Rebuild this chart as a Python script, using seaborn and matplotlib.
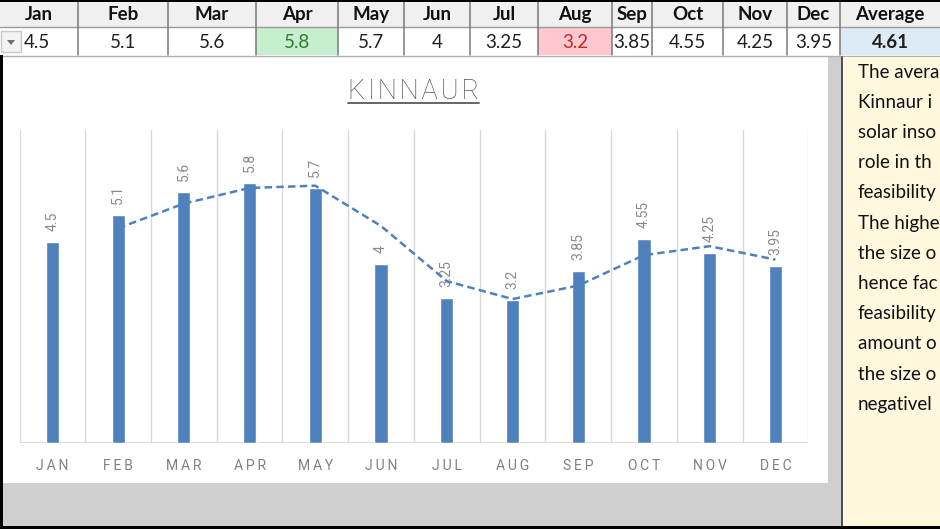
import matplotlib
matplotlib.use("Agg")
import matplotlib.pyplot as plt
import numpy as np
import pandas as pd
import seaborn as sns
from matplotlib.patches import Rectangle, Polygon

# data read from the sheet / chart
months = ["Jan", "Feb", "Mar", "Apr", "May", "Jun",
          "Jul", "Aug", "Sep", "Oct", "Nov", "Dec"]
month_ticks = ["JAN", "FEB", "MAR", "APR", "MAY", "JUN",
               "JUL", "AUG", "SEP", "OCT", "NOV", "DEC"]
insolation = [4.5, 5.1, 5.6, 5.8, 5.7, 4, 3.25, 3.2, 3.85, 4.55, 4.25, 3.95]
trend = [np.nan, 4.8, 5.35, 5.7, 5.75, 4.85, 3.62, 3.22, 3.52, 4.2, 4.4, 4.1]
average = "4.61"
chart_title = "KINNAUR"
# the note pane is cut off at the window edge
note_lines = ["The avera", "Kinnaur i", "solar inso", "role in th",
              "feasibility", "The highe", "the size o", "hence fac",
              "feasibility", "amount o", "the size o", "negativel"]

W, H = 940, 529
col_edges = [0, 78, 168, 256, 338, 404, 470, 538, 612, 652, 723, 787, 840, 940]
blue = "#4f81bd"

sns.set_style("white")
plt.rcParams["font.family"] = ["Roboto", "DejaVu Sans"]

fig = plt.figure(figsize=(9.4, 5.29), dpi=100)

# background axes in pixel coords (sheet, table, panes)
bg = fig.add_axes([0, 0, 1, 1])
bg.set_xlim(0, W)
bg.set_ylim(H, 0)
bg.axis("off")

cell_font = ["Lato", "DejaVu Sans"]

# header + value rows
bg.add_patch(Rectangle((0, 2), W, 25, fc="#f0f0f0", ec="none"))
bg.add_patch(Rectangle((0, 27), W, 28, fc="white", ec="none"))
fills = {3: "#c6efce", 7: "#ffc7ce", 12: "#ddebf7"}
for i, fc in fills.items():
    bg.add_patch(Rectangle((col_edges[i], 27), col_edges[i + 1] - col_edges[i], 28,
                           fc=fc, ec="none"))
bg.plot([0, W], [27, 27], color="#9a9a9a", lw=1)
bg.plot([0, W], [55.5, 55.5], color="#b0b0b0", lw=1)
for e in col_edges[1:-1]:
    bg.plot([e, e], [2, 55], color="#7a7a7a", lw=1.1)

headers = months + ["Average"]
cells = [f"{v:g}" for v in insolation] + [average]
for i, (hd, cv) in enumerate(zip(headers, cells)):
    cx = (col_edges[i] + col_edges[i + 1]) / 2
    bg.text(cx, 14.5, hd, ha="center", va="center", fontsize=13.5,
            fontweight="bold", color="#111111", family=cell_font)
    color = "#1f1f1f"
    weight = "normal"
    if i == 3:
        color = "#2e7d32"
    elif i == 7:
        color = "#c62828"
    elif i == 12:
        weight = "bold"
    if i == 0:
        cx = 37
    bg.text(cx, 42, cv, ha="center", va="center", fontsize=13.5,
            fontweight=weight, color=color, family=cell_font)

# filter dropdown on first cell
bg.add_patch(Rectangle((1, 31), 20, 21, fc="#f3f3f3", ec="#c8c8c8", lw=1))
bg.add_patch(Polygon([[7, 40], [15, 40], [11, 45]], closed=True, fc="#707070", ec="none"))

# chart area and the grey empty-sheet panes around it
bg.add_patch(Rectangle((3, 57), 825, 426, fc="white", ec="none"))
bg.add_patch(Rectangle((3, 483), 839, 43, fc="#cfcfcf", ec="none"))
bg.add_patch(Rectangle((828, 57), 14, 426, fc="#cfcfcf", ec="none"))

# note pane
bg.add_patch(Rectangle((842, 57), 98, 469, fc="#fff7de", ec="none", zorder=2))
bg.plot([842, 842], [57, 526], color="#333333", lw=1.2, zorder=3)
for k, line in enumerate(note_lines):
    bg.text(858, 72 + k * 30.2, line, ha="left", va="center", fontsize=13.5,
            color="#111111", family=cell_font, zorder=4)

# window frame
bg.add_patch(Rectangle((0, 0), W, 2, fc="black", ec="none", zorder=5))
bg.add_patch(Rectangle((0, 55), 3, H - 55, fc="black", ec="none", zorder=5))
bg.add_patch(Rectangle((0, 526), W, 3, fc="black", ec="none", zorder=5))

# chart
ax = fig.add_axes([19.5 / W, (H - 443.3) / H, 788.8 / W, 313.6 / H])
ax.patch.set_alpha(0)
df = pd.DataFrame({"month": month_ticks, "value": insolation})
sns.barplot(data=df, x="month", y="value", color=blue, width=0.2,
            saturation=1, ax=ax, zorder=3)
sns.lineplot(x=np.arange(len(trend)), y=trend, ax=ax, color=blue, lw=1.8,
             linestyle=(0, (3, 1.7)), zorder=4)

for b in np.arange(-0.5, len(months)):
    ax.axvline(b, color="#d9d9d9", lw=1, zorder=1)
ax.axhline(0, color="#d9d9d9", lw=1.4, zorder=2)

for i, v in enumerate(insolation):
    ax.annotate(f"{v:g}", (i, v), xytext=(0, 8), textcoords="offset points",
                rotation=90, ha="center", va="bottom", color="#8a8a8a", fontsize=10)

ax.set_xlim(-0.5, len(months) - 0.5)
ax.set_ylim(0, 7)
ax.set_xticks(range(len(months)))
ax.set_xticklabels(["\u2009".join(m) for m in month_ticks], color="#808080", fontsize=10)
ax.tick_params(axis="x", length=0, pad=11)
ax.set_yticks([])
ax.set_xlabel("")
ax.set_ylabel("")
sns.despine(ax=ax, left=True, bottom=True)

title = bg.text(413.9, 99.3, "\u200a".join(chart_title), ha="center", va="baseline",
                fontsize=19.5, fontweight="light", color="#595959", zorder=6)
fig.canvas.draw()
bb = title.get_window_extent().transformed(bg.transData.inverted())
bg.plot([bb.x0, bb.x1], [102.5, 102.5], color="#595959", lw=1.3, zorder=6)

fig.savefig("out.png", dpi=100)
